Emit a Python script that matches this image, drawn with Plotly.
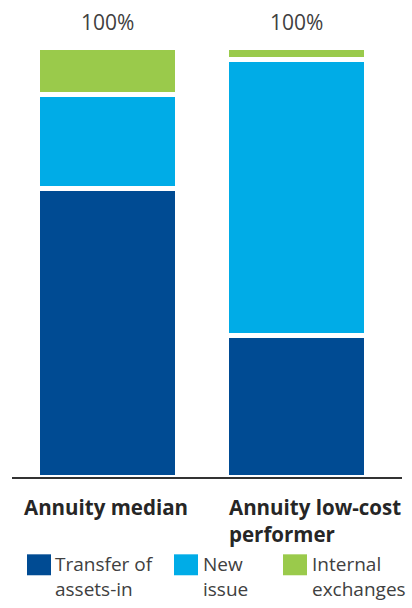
import plotly.graph_objects as go

# Share of annuity sales by source, percent of total
categories = ["Annuity median", "Annuity low-cost<br>performer"]
series_names = ["Transfer of<br>assets-in", "New<br>issue", "Internal<br>exchanges"]
transfer_in = [67, 33]
new_issue = [22, 64]
internal_exchanges = [11, 3]

colors = ["#004b93", "#00ace7", "#9aca4b"]
series_values = [transfer_in, new_issue, internal_exchanges]

W, H = 412, 608
PL, PR, PT, PB = 12, 402, 46.5, 477.5  # plot area edges in pixels


def px_x(px):
    return (px - PL) / (PR - PL)


def px_y(py):
    return (PB - py) / (PB - PT)


fig = go.Figure()
x_pos = list(range(len(categories)))
for name, vals, col in zip(series_names, series_values, colors):
    fig.add_trace(go.Bar(
        x=x_pos, y=vals, name=name, width=0.74,
        marker=dict(color=col, line=dict(color="white", width=5)),
        hoverinfo="skip",
    ))

totals = [sum(v) for v in zip(*series_values)]

annotations = []
# total labels above each column
for xi, tot in zip(x_pos, totals):
    annotations.append(dict(
        x=xi, y=px_y(21), xref="x", yref="paper", text=f"{tot}%",
        showarrow=False, xanchor="center", yanchor="middle",
        font=dict(family="Open Sans", size=21, color="#404040"),
    ))

# category labels below the baseline
cat_left = [22, 227]
for left, cat in zip(cat_left, categories):
    annotations.append(dict(
        x=px_x(left), y=px_y(492), xref="paper", yref="paper", text=f"<b>{cat}</b>",
        showarrow=False, xanchor="left", yanchor="top", align="left",
        font=dict(family="Open Sans", size=20.5, color="#262626"),
    ))

# legend: coloured squares with two-line labels
shapes = []
sq_left = [27, 174, 283]
txt_left = [53, 201, 310]
for sl, tl, name, col in zip(sq_left, txt_left, series_names, colors):
    shapes.append(dict(
        type="rect", xref="paper", yref="paper",
        x0=px_x(sl), x1=px_x(sl + 24), y0=px_y(576), y1=px_y(555),
        fillcolor=col, line=dict(width=0),
    ))
    annotations.append(dict(
        x=px_x(tl), y=px_y(577), xref="paper", yref="paper", text=name,
        showarrow=False, xanchor="left", yanchor="middle", align="left",
        font=dict(family="Open Sans", size=19, color="#404040"),
    ))

fig.update_layout(
    barmode="stack",
    width=W, height=H,
    margin=dict(l=PL, r=W - PR, t=PT, b=H - PB, pad=0),
    paper_bgcolor="white", plot_bgcolor="white",
    showlegend=False,
    xaxis=dict(range=[-0.505, 1.558], showticklabels=False, showgrid=False,
               zeroline=False, showline=True, linecolor="#333333", linewidth=2,
               fixedrange=True),
    yaxis=dict(range=[0, 100], visible=False, fixedrange=True),
    annotations=annotations,
    shapes=shapes,
)

fig.write_html("out.html", config={"displayModeBar": False})
